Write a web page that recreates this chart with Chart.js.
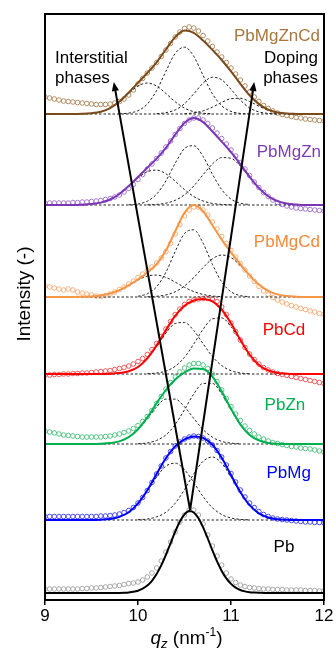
<!DOCTYPE html>
<html><head><meta charset="utf-8">
<script src="https://cdn.jsdelivr.net/npm/chart.js@4.4.1/dist/chart.umd.min.js"></script>
<style>html,body{margin:0;padding:0;background:#fff;}#wrap{width:336px;height:648px;}</style>
</head><body><div id="wrap"><canvas id="c" width="336" height="648"></canvas></div>
<script>
// ---------- data ----------
const Q_LINE = [9.0,9.1,9.2,9.3,9.4,9.5,9.6,9.7,9.8,9.9,10.0,10.1,10.2,10.3,10.4,10.5,10.6,10.7,10.8,10.9,11.0,11.1,11.2,11.3,11.4,11.5,11.6,11.7,11.8,11.9,12.0];
const Q_DATA = [9.00,9.05,9.10,9.15,9.20,9.25,9.30,9.35,9.40,9.45,9.50,9.55,9.60,9.65,9.70,9.75,9.80,9.85,9.90,9.95,10.00,10.05,10.10,10.15,10.20,10.25,10.30,10.35,10.40,10.45,10.50,10.55,10.60,10.65,10.70,10.75,10.80,10.85,10.90,10.95,11.00,11.05,11.10,11.15,11.20,11.25,11.30,11.35,11.40,11.45,11.50,11.55,11.60,11.65,11.70,11.75,11.80,11.85,11.90,11.95,12.00];
const X_TICKS = [9,10,11,12];
const SAMPLES = ['Pb','PbMg','PbZn','PbCd','PbMgCd','PbMgZn','PbMgZnCd'];
const BASELINES = [7,80,156,226,303,395,486];

const DATA_PB = [4,4,4,4,4,4,4,4,4.5,4.5, 5,5,5.5,6,6.5,7,7.5,8.5,9.5,10, 11,13,16,20,25,32,41,51,61,71, 78,83,83,78,69,58,47,37,28,20, 14,10.5,8,6.5,5.5,5,4.5,4,4,3.5, 3.5,3.5,3,3,3,3,2.5,2.5,2.5,2, 2];
const DATA_PBMG = [3.5,3.5,3.5,3.5,3.5,3.5,3.5,3.5,3.5,3.5, 3.5,3.5,4,4,4.5,5,6,7.5,9.5,12.5, 17,22.5,29.5,37.5,46,54,62,68.5,74,78, 81,83,84,83.5,82,79,75,69.5,63,55, 46.5,38,30,23,17,12.5,8.5,5.5,3.5,2, 1,0.5,0,-0.5,-1,-1.5,-2,-2,-2.5,-2.5, -3];
const DATA_PBZN = [13,12,11,10,9,8.5,8,7.5,7,7, 7,7,7,7.5,8,9,10,11.5,13,15.5, 18.5,22.5,27.5,33.5,40.5,47.5,55,61.5,67,72, 76,79,80.5,80.5,79,75.5,70,62.5,54,45.5, 37.5,30,23.5,18,13.5,10,7,5,3,1.5, 0.5,-0.5,-1.5,-2.5,-3,-4,-4.5,-5,-6,-7, -8];
const DATA_PBCD = [-1,-1,-0.5,-0.5,0,0,0.5,0.5,1,1, 1.5,2,2.5,3,3.5,4.5,5.5,6.5,8,10, 12.5,15.5,19.5,24.5,30.5,37.5,45,52.5,59.5,65, 69.5,72.5,74,75,75.5,75.5,75,72.5,67,59.5, 51,42.5,34,26.5,20,14.5,10,6.5,4,2, 0.5,-0.5,-1.5,-2.5,-3.5,-4.5,-5.5,-6.5,-7.5,-8.5, -9.5];
const DATA_PBMGCD = [11,10,9,8,7,8,7,5,4,3, 2,1,0.5,1.5,3,5,7.5,10,13,16, 19.5,23,26.5,30,34,39,45.5,53.5,63,72.5, 81,87,90,90,87,82,75,68,60.5,53.5, 46.5,40,33.5,27,21,15.5,10.5,6,2.5,-0.5, -3,-5,-7,-8.5,-10,-11.5,-12.5,-14,-15,-16.5, -17.5];
const DATA_PBMGZN = [2,2,2,2,2,2,2.5,2.5,3,3, 3.5,4,4.5,5.5,6.5,8,10,13,16.5,20.5, 25.5,30.5,36,41,46.5,52,58,64,70.5,76.5, 81.5,85,87,87,85,81.5,77,72,66.5,61, 55,49,42.5,36,29.5,23,17.5,12.5,8.5,5, 2.5,0.5,-1,-2,-3,-3.5,-4,-4.5,-5,-5.5, -6];
const DATA_PBMGZNCD = [17,16,15,14,13,12.5,12,11.5,11,10.5, 10,9.5,9.5,9.5,10,11,12.5,15,19,24, 30,35.5,41,46,51.5,57.5,64,70.5,77,82, 85.5,87,86,83,78.5,73,67.5,62,57,51.5, 46,40,34,28,22,17,12.5,8.5,5.5,3, 1,-0.5,-1.5,-2.5,-3.5,-4,-5,-5.5,-6,-6.5, -7];

// Pb fit is read on the fine grid (Q_DATA), the others on Q_LINE
const FIT_PB = [0,0,0,0,0,0,0,0,0,0,0,0,0,0,0,0, 0.1,0.3,0.6,1.2,2.3,4.3,7.4,12.2,18.9,27.6,38.1,49.7,61.3,71.5,78.7,82.0,80.5,74.8,65.7,54.5,42.7,31.6,22.1,14.6,9.1,5.4,3.0,1.6,0.8,0.4,0.2,0.1, 0,0,0,0,0,0,0,0,0,0,0,0,0];
const FIT_PBMG = [0,0,0,0,0,0,0.3,1.0,3.1,7.7,16.6,29.8,46.1,61.7,73.6,80.7,83.6,82.1,75.3,62.2,45.0,28.0,14.8,6.6,2.5,0.8,0.2,0,0,0,0];
const FIT_PBZN = [0,0,0,0,0,0,0.2,0.9,2.6,6.8,14.7,26.6,40.8,54.0,64.4,71.5,75.6,75.0,67.4,52.7,35.2,19.7,9.1,3.6,1.1,0.3,0,0,0,0,0];
const FIT_PBCD = [0,0,0,0,0,0,0,0.2,0.9,2.7,7.0,15.7,28.6,43.9,58.2,68.2,73.5,75.0,72.6,64.5,50.7,34.2,19.4,9.1,3.6,1.1,0.3,0,0,0,0];
const FIT_PBMGCD = [0,0,0,0,0.2,0.5,1.5,3.5,6.9,11.7,17.7,24.3,32.8,46.4,65.7,84.2,92.1,85.8,71.8,57.4,44.6,32.9,21.7,12.4,6.2,2.6,0.9,0.3,0,0,0];
const FIT_PBMGZN = [0,0,0,0,0.3,0.9,2.4,5.5,11.0,18.9,28.0,37.3,46.4,57.1,70.3,82.0,86.9,82.9,73.5,63.4,52.8,40.9,28.3,17.0,8.8,3.9,1.5,0.5,0,0,0];
const FIT_PBMGZNCD = [0,0,0,0,0.2,0.8,2.3,5.9,12.4,21.4,31.3,41.0,51.7,64.5,76.9,83.4,81.2,73.5,64.1,54.0,42.6,30.2,18.7,9.9,4.4,1.5,0.4,0.1,0,0,0];

// components: [start index in Q_LINE, values above baseline]
const COMP_PB = [];
const COMP_PBMG = [[6,[0.3,1.0,3.1,7.7,16.3,28.8,43.0,53.9,56.8,50.3,37.5,23.4,12.3,5.5,2.0,0.6,0.2]],
                   [10,[0.3,1.0,3.1,7.8,16.8,30.4,46.1,58.7,63.0,56.7,43.0,27.4,14.6,6.6,2.5,0.8,0.2]]];
const COMP_PBZN = [[6,[0.2,0.9,2.6,6.8,14.4,25.5,37.2,44.9,44.9,37.2,25.5,14.4,6.8,2.6,0.9,0.2]],
                   [10,[0.3,1.1,3.6,9.1,19.5,34.3,50.1,60.6,60.6,50.1,34.3,19.5,9.1,3.6,1.1,0.3]]];
const COMP_PBCD = [[7,[0.2,0.9,2.7,7.0,15.4,27.6,41.0,50.5,51.5,43.4,30.3,17.5,8.4,3.3,1.0,0.3]],
                   [11,[0.3,1.0,2.9,7.7,16.7,30.1,44.7,55.1,56.1,47.4,33.1,19.1,9.1,3.6,1.1,0.3]]];
const COMP_PBMGCD = [[4,[0.2,0.5,1.5,3.5,6.9,11.7,17.0,20.9,21.9,19.6,14.9,9.7,5.4,2.5,1.0,0.3]],
                     [10,[0.7,3.2,10.2,24.7,45.6,63.5,67.2,53.8,32.7,15.1,5.2,1.4,0.3]],
                     [11,[0.2,0.7,2.1,5.2,11.0,19.5,29.5,38.1,42.0,39.4,31.5,21.4,12.4,6.2,2.6,0.9,0.3]]];
const COMP_PBMGZN = [[4,[0.3,0.9,2.4,5.5,11.0,18.7,27.0,33.3,34.9,31.2,23.8,15.4,8.5,4.0,1.6,0.6,0.2]],
                     [9,[0.2,1.0,3.8,10.9,24.1,41.8,56.4,59.3,48.6,30.9,15.4,5.9,1.8,0.4]],
                     [11,[0.2,0.6,1.8,4.7,10.2,19.1,30.3,41.0,47.4,46.7,39.1,27.9,17.0,8.8,3.9,1.5,0.5,0.1]]];
const COMP_PBMGZNCD = [[4,[0.2,0.8,2.3,5.9,12.2,20.5,28.0,31.0,28.0,20.5,12.2,5.9,2.3,0.8,0.2]],
                       [8,[0.2,0.9,3.3,10.0,23.4,42.7,60.6,66.9,57.6,38.6,20.2,8.2,2.6,0.6,0.1]],
                       [12,[0.3,1.3,4.1,10.3,20.2,30.9,36.8,34.2,24.7,13.9,6.1,2.1,0.6,0.1]],
                       [15,[0.3,1.1,3.2,6.9,11.6,15.3,15.7,12.5,7.8,3.8,1.4,0.4,0.1]]];

const ALL_DATA = [DATA_PB,DATA_PBMG,DATA_PBZN,DATA_PBCD,DATA_PBMGCD,DATA_PBMGZN,DATA_PBMGZNCD];
const ALL_FIT = [FIT_PB,FIT_PBMG,FIT_PBZN,FIT_PBCD,FIT_PBMGCD,FIT_PBMGZN,FIT_PBMGZNCD];
const ALL_COMP = [COMP_PB,COMP_PBMG,COMP_PBZN,COMP_PBCD,COMP_PBMGCD,COMP_PBMGZN,COMP_PBMGZNCD];

// annotation anchors (data coordinates)
const ARROW_BASE = [10.56, 90];
const ARROW_TIPS = [[9.74, 518], [11.25, 518]];

// ---------- style ----------
const FONT = '"Liberation Sans", Arial, Helvetica, sans-serif';
const DATA_COLORS = ['#a8a8a8','#4a4aff','#55c585','#f45a5a','#f7b07c','#a57ad6','#b38c62'];
const FIT_COLORS  = ['#000000','#0000ff','#00b050','#ff0000','#f79646','#7a36b5','#7a4a1a'];
const LABEL_COLORS= ['#000000','#0000ff','#00b050','#ff0000','#f58a3a','#7a3db8','#a8773f'];
// label anchors: [q, v, align]
const LABEL_POS = [[11.57,48,'center'],[11.62,122,'center'],[11.58,190,'center'],[11.57,265,'center'],
                   [11.957,353,'right'],[11.968,443,'right'],[11.957,559,'right']];

// ---------- build datasets ----------
const datasets = [];
SAMPLES.forEach((name, s) => {
  const b = BASELINES[s];
  datasets.push({
    label: name + ' data', order: 3, showLine: false,
    data: Q_DATA.map((q, i) => ({x: q, y: b + ALL_DATA[s][i]})),
    pointRadius: 2.3, pointBorderWidth: 1, pointStyle: 'circle',
    pointBorderColor: DATA_COLORS[s], pointBackgroundColor: 'rgba(255,255,255,0)',
    borderColor: DATA_COLORS[s]
  });
  if (ALL_COMP[s].length) {
    datasets.push({
      label: name + ' base', order: 2,
      data: [{x: Q_LINE[0], y: b}, {x: Q_LINE[Q_LINE.length-1], y: b}],
      borderColor: '#222', borderWidth: 1, borderDash: [2.5, 2], pointRadius: 0
    });
  }
  ALL_COMP[s].forEach((c, k) => {
    const [start, vals] = c;
    datasets.push({
      label: name + ' comp ' + k, order: 2,
      data: vals.map((v, i) => ({x: Q_LINE[start + i], y: b + v})),
      borderColor: '#222', borderWidth: 1, borderDash: [2.5, 2], pointRadius: 0,
      cubicInterpolationMode: 'monotone'
    });
  });
  const fit = ALL_FIT[s];
  const grid = fit.length === Q_DATA.length ? Q_DATA : Q_LINE;
  datasets.push({
    label: name + ' fit', order: 1,
    data: grid.map((q, i) => ({x: q, y: b + fit[i]})),
    borderColor: FIT_COLORS[s], borderWidth: 2, pointRadius: 0,
    cubicInterpolationMode: 'monotone'
  });
});

// ---------- overlay plugin ----------
const overlay = {
  id: 'overlay',
  afterDraw(chart) {
    const {ctx, chartArea: a, scales: {x, y}} = chart;
    ctx.save();
    ctx.strokeStyle = '#000'; ctx.lineWidth = 2;
    ctx.strokeRect(a.left, a.top, a.right - a.left, a.bottom - a.top);

    // arrows
    const bx = x.getPixelForValue(ARROW_BASE[0]), by = y.getPixelForValue(ARROW_BASE[1]);
    ARROW_TIPS.forEach(t => {
      const tx = x.getPixelForValue(t[0]), ty = y.getPixelForValue(t[1]);
      const dx = tx - bx, dy = ty - by, L = Math.hypot(dx, dy);
      const ux = dx / L, uy = dy / L, nx = -uy, ny = ux;
      const hl = 9, hw = 3.6;
      ctx.strokeStyle = '#000'; ctx.lineWidth = 2;
      ctx.beginPath(); ctx.moveTo(bx, by); ctx.lineTo(tx - ux * 6, ty - uy * 6); ctx.stroke();
      ctx.fillStyle = '#000';
      ctx.beginPath();
      ctx.moveTo(tx, ty);
      ctx.lineTo(tx - ux * hl + nx * hw, ty - uy * hl + ny * hw);
      ctx.lineTo(tx - ux * hl - nx * hw, ty - uy * hl - ny * hw);
      ctx.closePath(); ctx.fill();
    });

    // sample labels
    ctx.font = '17px ' + FONT;
    ctx.textBaseline = 'alphabetic';
    SAMPLES.forEach((name, s) => {
      const p = LABEL_POS[s];
      ctx.fillStyle = LABEL_COLORS[s];
      ctx.textAlign = p[2];
      ctx.fillText(name, x.getPixelForValue(p[0]), y.getPixelForValue(p[1]));
    });
    // phase annotations
    ctx.fillStyle = '#000';
    ctx.textAlign = 'left';
    ctx.fillText('Interstitial', x.getPixelForValue(9.108), y.getPixelForValue(537));
    ctx.fillText('phases', x.getPixelForValue(9.108), y.getPixelForValue(517));
    ctx.textAlign = 'right';
    ctx.fillText('Doping', x.getPixelForValue(11.935), y.getPixelForValue(537));
    ctx.fillText('phases', x.getPixelForValue(11.935), y.getPixelForValue(517));

    // y title
    ctx.save();
    ctx.translate(25, (a.top + a.bottom) / 2 - 13);
    ctx.rotate(-Math.PI / 2);
    ctx.font = '19px ' + FONT;
    ctx.textAlign = 'center'; ctx.textBaseline = 'middle';
    ctx.fillText('Intensity (-)', 0, 0);
    ctx.restore();

    // x title: q_z (nm^-1)
    const segs = [
      {t: 'q', f: 'italic 19px ' + FONT, dy: 0},
      {t: 'z', f: 'italic 13px ' + FONT, dy: 4},
      {t: ' (nm', f: '19px ' + FONT, dy: 0},
      {t: '-1', f: '12px ' + FONT, dy: -8},
      {t: ')', f: '19px ' + FONT, dy: 0}
    ];
    let w = 0;
    segs.forEach(sg => { ctx.font = sg.f; sg.w = ctx.measureText(sg.t).width; w += sg.w; });
    let cx = (a.left + a.right) / 2 + 2 - w / 2;
    const base = 644;
    ctx.textAlign = 'left'; ctx.textBaseline = 'alphabetic'; ctx.fillStyle = '#000';
    segs.forEach(sg => { ctx.font = sg.f; ctx.fillText(sg.t, cx, base + sg.dy); cx += sg.w; });
    ctx.restore();
  }
};

new Chart(document.getElementById('c'), {
  type: 'line',
  data: {datasets},
  options: {
    responsive: false, animation: false, devicePixelRatio: 1,
    layout: {padding: {left: 45, right: 12, top: 14, bottom: 0}},
    plugins: {legend: {display: false}, tooltip: {enabled: false}},
    scales: {
      x: {
        type: 'linear', min: X_TICKS[0], max: X_TICKS[X_TICKS.length - 1],
        afterBuildTicks(s) { s.ticks = X_TICKS.map(v => ({value: v})); },
        ticks: {color: '#000', font: {family: FONT, size: 17}, padding: 1, maxRotation: 0, autoSkip: false},
        grid: {drawOnChartArea: false, drawTicks: true, tickLength: 5, color: '#000', lineWidth: 1.5},
        border: {display: false},
        afterFit(s) { s.height = 48; }
      },
      y: {display: false, min: 0, max: 586}
    }
  },
  plugins: [overlay]
});
</script>
</body></html>
